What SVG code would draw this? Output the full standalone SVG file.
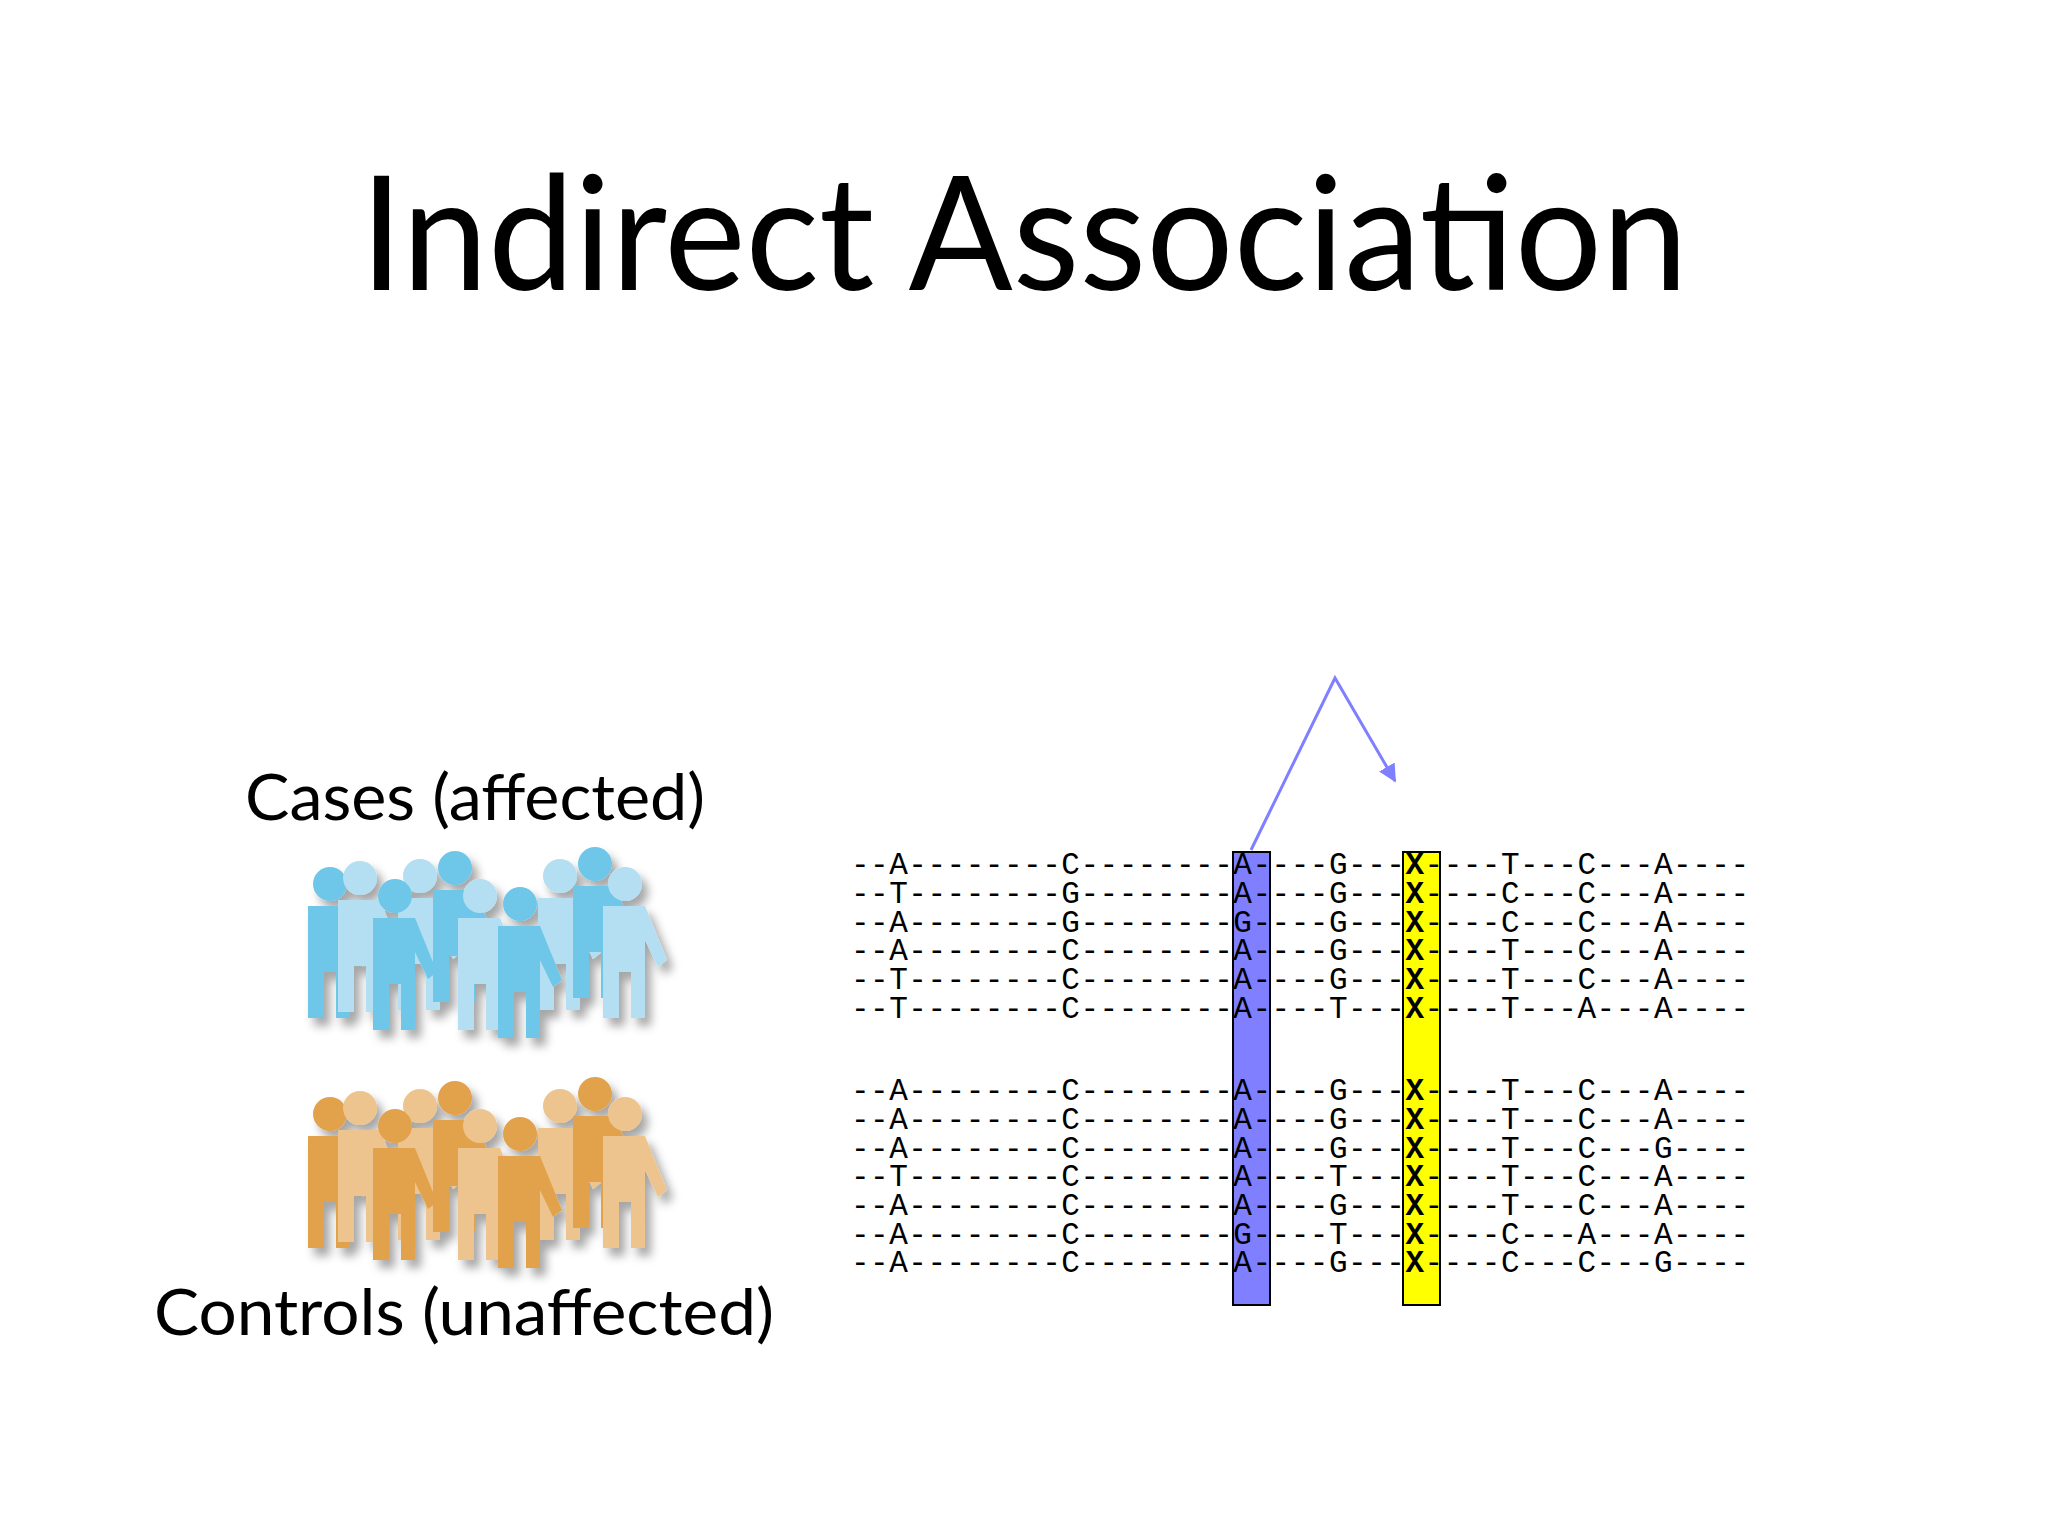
<svg xmlns="http://www.w3.org/2000/svg" width="2048" height="1536" viewBox="0 0 2048 1536">
<style>
.seq{font-family:"Liberation Mono",monospace;font-size:31px;fill:#000}
.lbl{font-family:"Lato","Open Sans",sans-serif;font-size:64px;fill:#000}
.b{font-weight:bold}
</style>
<defs>
<filter id="sh" x="-20%" y="-20%" width="150%" height="150%"><feDropShadow dx="6" dy="8" stdDeviation="5" flood-color="#000" flood-opacity="0.35"/></filter>
<g id="p"><circle cx="0" cy="16" r="17"/><path d="M-22,38 H20 L42,92 L33,99 L20,72 V150 H6 V104 H-6 V150 H-22 Z"/></g>
<marker id="ah" viewBox="0 0 10 10" refX="9" refY="5" markerWidth="6" markerHeight="6" orient="auto"><path d="M0,0 L10,5 L0,10 Z" fill="#7f7fff"/></marker>
</defs>
<rect width="2048" height="1536" fill="#fff"/>
<text x="1024" y="290" text-anchor="middle" font-family="Lato,'Open Sans',sans-serif" font-size="160" textLength="1328" lengthAdjust="spacingAndGlyphs">Indirect Association</text>
<g id="cases-label"><text class="lbl" x="475" y="820" text-anchor="middle" textLength="460" lengthAdjust="spacingAndGlyphs">Cases (affected)</text></g>
<g id="controls-label"><text class="lbl" x="464" y="1335" text-anchor="middle" textLength="620" lengthAdjust="spacingAndGlyphs">Controls (unaffected)</text></g>
<g id="cases-people" filter="url(#sh)">
<use href="#p" x="330" y="868" fill="#6ec6e8"/>
<use href="#p" x="360" y="862" fill="#b4def2"/>
<use href="#p" x="420" y="860" fill="#b4def2"/>
<use href="#p" x="455" y="852" fill="#6ec6e8"/>
<use href="#p" x="395" y="880" fill="#6ec6e8"/>
<use href="#p" x="480" y="880" fill="#b4def2"/>
<use href="#p" x="560" y="860" fill="#b4def2"/>
<use href="#p" x="595" y="848" fill="#6ec6e8"/>
<use href="#p" x="625" y="868" fill="#b4def2"/>
<use href="#p" x="520" y="888" fill="#6ec6e8"/>
</g>
<g id="controls-people" filter="url(#sh)">
<use href="#p" x="330" y="1098" fill="#e2a24c"/>
<use href="#p" x="360" y="1092" fill="#eec48e"/>
<use href="#p" x="420" y="1090" fill="#eec48e"/>
<use href="#p" x="455" y="1082" fill="#e2a24c"/>
<use href="#p" x="395" y="1110" fill="#e2a24c"/>
<use href="#p" x="480" y="1110" fill="#eec48e"/>
<use href="#p" x="560" y="1090" fill="#eec48e"/>
<use href="#p" x="595" y="1078" fill="#e2a24c"/>
<use href="#p" x="625" y="1098" fill="#eec48e"/>
<use href="#p" x="520" y="1118" fill="#e2a24c"/>
</g>
<g id="columns">
<rect x="1233" y="852" width="37" height="453" fill="#7f7fff" stroke="#000" stroke-width="2"/>
<rect x="1403" y="852" width="37" height="453" fill="#ffff00" stroke="#000" stroke-width="2"/>
</g>
<g id="connectors"><path d="M1251,850 L1335,678 L1395,781" fill="none" stroke="#7f7fff" stroke-width="3" marker-end="url(#ah)"/></g>
<g id="sequences">
<text class="seq" x="851" y="874" textLength="898">--A--------C--------A----G---<tspan class="b">X</tspan>----T---C---A----</text>
<text class="seq" x="851" y="903" textLength="898">--T--------G--------A----G---<tspan class="b">X</tspan>----C---C---A----</text>
<text class="seq" x="851" y="932" textLength="898">--A--------G--------G----G---<tspan class="b">X</tspan>----C---C---A----</text>
<text class="seq" x="851" y="960" textLength="898">--A--------C--------A----G---<tspan class="b">X</tspan>----T---C---A----</text>
<text class="seq" x="851" y="989" textLength="898">--T--------C--------A----G---<tspan class="b">X</tspan>----T---C---A----</text>
<text class="seq" x="851" y="1018" textLength="898">--T--------C--------A----T---<tspan class="b">X</tspan>----T---A---A----</text>
<text class="seq" x="851" y="1100" textLength="898">--A--------C--------A----G---<tspan class="b">X</tspan>----T---C---A----</text>
<text class="seq" x="851" y="1129" textLength="898">--A--------C--------A----G---<tspan class="b">X</tspan>----T---C---A----</text>
<text class="seq" x="851" y="1158" textLength="898">--A--------C--------A----G---<tspan class="b">X</tspan>----T---C---G----</text>
<text class="seq" x="851" y="1186" textLength="898">--T--------C--------A----T---<tspan class="b">X</tspan>----T---C---A----</text>
<text class="seq" x="851" y="1215" textLength="898">--A--------C--------A----G---<tspan class="b">X</tspan>----T---C---A----</text>
<text class="seq" x="851" y="1244" textLength="898">--A--------C--------G----T---<tspan class="b">X</tspan>----C---A---A----</text>
<text class="seq" x="851" y="1272" textLength="898">--A--------C--------A----G---<tspan class="b">X</tspan>----C---C---G----</text>
</g>
</svg>
